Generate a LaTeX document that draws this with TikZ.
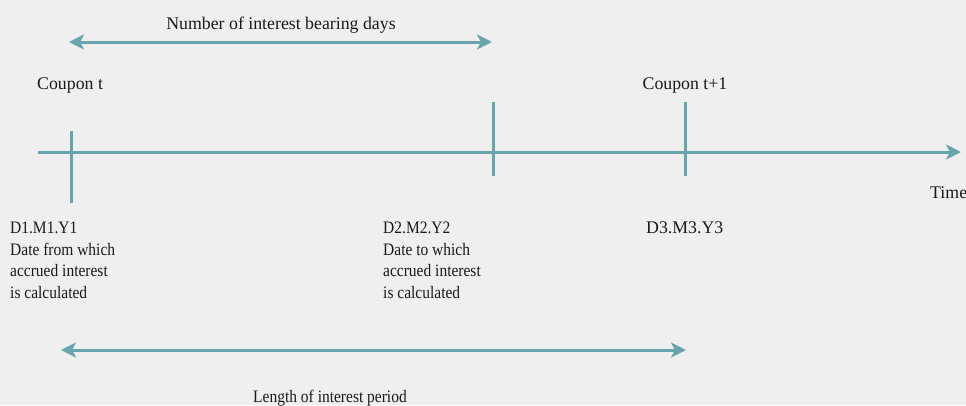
\documentclass[tikz,border=0pt]{standalone}
\usepackage{fontspec}
\setmainfont{Liberation Serif}
\newfontfamily\condfont{Liberation Serif}[FakeStretch=0.885]
\usetikzlibrary{arrows.meta}
\definecolor{bg}{HTML}{EFEFEF}
\definecolor{teal}{HTML}{68A4AE}
\definecolor{ink}{HTML}{1A1A1A}
\begin{document}
\begin{tikzpicture}[x=1pt,y=-1pt,
  line/.style={draw=teal,line width=3pt},
  tip/.style={-{Stealth[length=15pt,width=15pt,inset=4pt]}},
  dtip/.style={{Stealth[length=15pt,width=15pt,inset=4pt]}-{Stealth[length=15pt,width=15pt,inset=4pt]}},
  lbl/.style={inner sep=0pt,text=ink,font=\fontsize{17.8}{21.5}\selectfont},
  clbl/.style={inner sep=0pt,text=ink,font=\condfont\fontsize{17.5}{21.5}\selectfont},
  blk/.style={clbl,align=left,anchor=north west}]
\fill[bg] (0,0) rectangle (966,405);
\useasboundingbox (0,0) rectangle (966,405);
% axis
\coordinate (axS) at (38,152);
\coordinate (axE) at (961,152);
\draw[line,tip] (axS) -- (axE);
% ticks
\coordinate (t1a) at (71,131); \coordinate (t1b) at (71,203);
\coordinate (t2a) at (493,102); \coordinate (t2b) at (493,176);
\coordinate (t3a) at (685,102); \coordinate (t3b) at (685,176);
\draw[line] (t1a) -- (t1b);
\draw[line] (t2a) -- (t2b);
\draw[line] (t3a) -- (t3b);
% top double arrow
\coordinate (topL) at (69,42); \coordinate (topR) at (492,42);
\draw[line,dtip] (topL) -- (topR);
\node[lbl] (nbd) at (281,25) {Number of interest bearing days};
% bottom double arrow
\coordinate (botL) at (61,350); \coordinate (botR) at (686,350);
\draw[line,dtip] (botL) -- (botR);
\node[clbl] (lip) at (330,398) {Length of interest period};
% coupon labels
\node[lbl,anchor=west] (ct) at (37,85) {Coupon t};
\node[lbl] (ct1) at (685,85) {Coupon t+1};
\node[lbl,anchor=west] (time) at (930,193) {Time};
% date blocks
\node[blk] (d1) at (10,222) {D1.M1.Y1\\Date from which\\accrued interest\\is calculated};
\node[blk] (d2) at (383,222) {D2.M2.Y2\\Date to which\\accrued interest\\is calculated};
\node[lbl,align=left,anchor=north west] (d3) at (646,222) {D3.M3.Y3};
\end{tikzpicture}
\end{document}
